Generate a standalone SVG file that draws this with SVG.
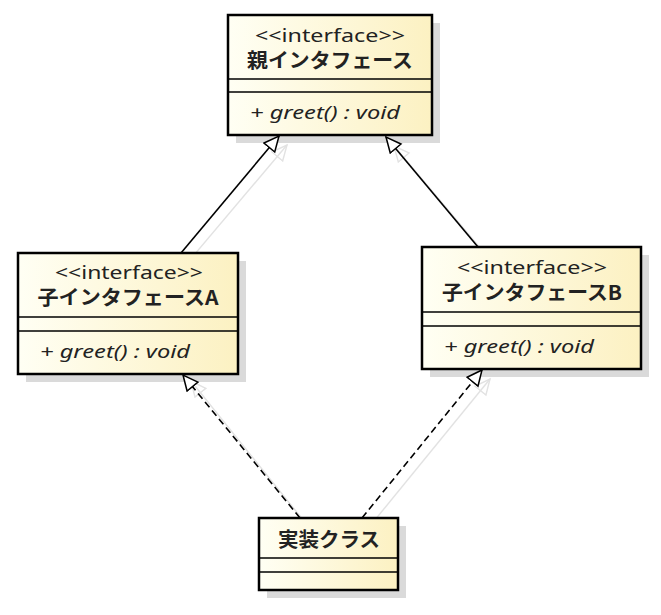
<svg xmlns="http://www.w3.org/2000/svg" width="661" height="615" viewBox="0 0 661 615">
<style>
.box{fill:url(#cream);stroke:#000;stroke-width:2.5}
.shadow{fill:#dadada}
.sep{stroke:#000;stroke-width:1.5}
.st{font-family:"Noto Sans","Noto Sans CJK JP",sans-serif;font-size:18px;fill:#222;text-anchor:middle}
.nm{font-family:"Noto Sans CJK JP",sans-serif;font-size:20px;font-weight:bold;fill:#222;text-anchor:middle}
.op{font-family:"Noto Sans","Noto Sans CJK JP",sans-serif;font-size:18px;font-style:italic;fill:#222}
.gen{stroke:#000;stroke-width:1.6;fill:none;marker-end:url(#tri)}
.real{stroke:#000;stroke-width:1.6;fill:none;stroke-dasharray:7,4;marker-end:url(#tri)}
.sh{stroke:#e2e2e2;stroke-width:1.4;fill:none;marker-end:url(#trish)}
</style>
<defs>
<linearGradient id="cream" x1="0" y1="0" x2="1" y2="0">
<stop offset="0" stop-color="#fffff4"/>
<stop offset="1" stop-color="#fcf1c2"/>
</linearGradient>
<marker id="tri" markerUnits="userSpaceOnUse" markerWidth="18" markerHeight="18" viewBox="0 0 18 18" refX="16" refY="8" orient="auto">
<path d="M1,1 L16,8 L1,15 Z" fill="#fff" stroke="#000" stroke-width="1.5"/>
</marker>
<marker id="trish" markerUnits="userSpaceOnUse" markerWidth="18" markerHeight="18" viewBox="0 0 18 18" refX="16" refY="8" orient="auto">
<path d="M1,1 L16,8 L1,15 Z" fill="none" stroke="#e2e2e2" stroke-width="1.4"/>
</marker>
</defs>
<g id="shadows">
<rect class="shadow" x="236" y="23" width="204" height="120"/>
<rect class="shadow" x="26" y="261" width="220" height="121"/>
<rect class="shadow" x="430" y="255" width="219" height="122"/>
<rect class="shadow" x="267" y="526" width="139" height="72"/>
</g>
<g id="connectors">
<line class="sh" x1="189" y1="261" x2="287" y2="145"/>
<line class="sh" x1="486" y1="255" x2="394" y2="146"/>
<line class="sh" x1="308" y1="526" x2="191" y2="381"/>
<line class="sh" x1="370" y1="526" x2="490" y2="379"/>
<line class="gen" x1="181" y1="253" x2="279" y2="136"/>
<line class="gen" x1="478" y1="247" x2="386" y2="137"/>
<line class="real" x1="300" y1="518" x2="183" y2="375"/>
<line class="real" x1="362" y1="518" x2="482" y2="370"/>
</g>
<g id="parent">
<rect class="box" x="228" y="15" width="204" height="120"/>
<line class="sep" x1="228" y1="79" x2="432" y2="79"/>
<line class="sep" x1="228" y1="92" x2="432" y2="92"/>
<text class="st" x="330" y="42" textLength="150" lengthAdjust="spacingAndGlyphs">&lt;&lt;interface&gt;&gt;</text>
<text class="nm" x="330" y="68" textLength="166" lengthAdjust="spacingAndGlyphs">親インタフェース</text>
<text class="op" x="250" y="119" textLength="150" lengthAdjust="spacingAndGlyphs">+ greet() : void</text>
</g>
<g id="childA">
<rect class="box" x="18" y="253" width="220" height="121"/>
<line class="sep" x1="18" y1="317" x2="238" y2="317"/>
<line class="sep" x1="18" y1="331" x2="238" y2="331"/>
<text class="st" x="129" y="279" textLength="148" lengthAdjust="spacingAndGlyphs">&lt;&lt;interface&gt;&gt;</text>
<text class="nm" x="128" y="305" textLength="181" lengthAdjust="spacingAndGlyphs">子インタフェースA</text>
<text class="op" x="40" y="358" textLength="150" lengthAdjust="spacingAndGlyphs">+ greet() : void</text>
</g>
<g id="childB">
<rect class="box" x="422" y="247" width="219" height="122"/>
<line class="sep" x1="422" y1="312" x2="641" y2="312"/>
<line class="sep" x1="422" y1="326" x2="641" y2="326"/>
<text class="st" x="532" y="274" textLength="150" lengthAdjust="spacingAndGlyphs">&lt;&lt;interface&gt;&gt;</text>
<text class="nm" x="532" y="300" textLength="180" lengthAdjust="spacingAndGlyphs">子インタフェースB</text>
<text class="op" x="444" y="353" textLength="150" lengthAdjust="spacingAndGlyphs">+ greet() : void</text>
</g>
<g id="impl">
<rect class="box" x="259" y="518" width="139" height="72"/>
<line class="sep" x1="259" y1="558" x2="398" y2="558"/>
<line class="sep" x1="259" y1="572" x2="398" y2="572"/>
<text class="nm" x="329" y="547" textLength="102" lengthAdjust="spacingAndGlyphs">実装クラス</text>
</g>
</svg>
